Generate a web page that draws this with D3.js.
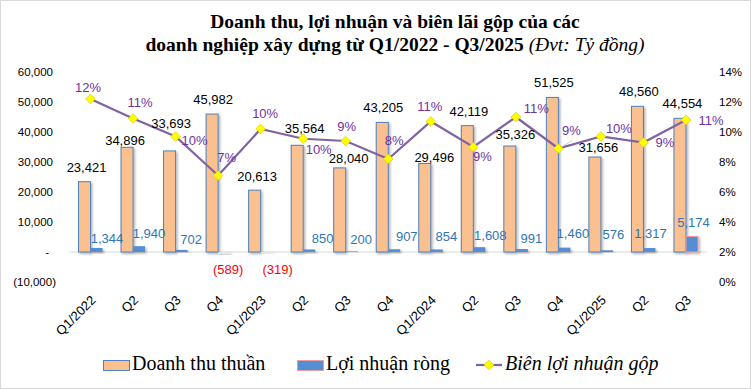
<!DOCTYPE html>
<html>
<head>
<meta charset="utf-8">
<script src="https://cdn.jsdelivr.net/npm/d3@7"></script>
<style>
    body { margin: 0; background: #fff; }
    svg text { font-family: "Liberation Sans", Arial, sans-serif; }
</style>
</head>
<body>
<div id="chart"></div>
<script>
// data
const quarters = ["Q1/2022", "Q2", "Q3", "Q4", "Q1/2023", "Q2", "Q3", "Q4", "Q1/2024", "Q2", "Q3", "Q4", "Q1/2025", "Q2", "Q3"];
const revenue = [23421, 34896, 33693, 45982, 20613, 35564, 28040, 43205, 29496, 42119, 35326, 51525, 31656, 48560, 44554];
const profit = [1344, 1940, 702, -589, -319, 850, 200, 907, 854, 1608, 991, 1460, 576, 1317, 5174];
const margin = [12.2, 10.9, 9.7, 7.1, 10.2, 9.55, 9.4, 8.2, 10.7, 9.0, 11.0, 8.9, 9.7, 9.3, 10.8];
const leftTicks = [-10000, 0, 10000, 20000, 30000, 40000, 50000, 60000];
const rightTicks = [0, 2, 4, 6, 8, 10, 12, 14];
const seriesNames = ["Doanh thu thuần", "Lợi nhuận ròng", "Biên lợi nhuận gộp"];

// label nudges (dx, dy) copied from the hand placed labels in the original
const revLabelNudge = [[2,-14],[-2,-7],[1.5,-27],[1,-15],[2.5,-14],[7.5,-17],[9,-9],[1,-15],[9.5,-6],[1.5,-14],[5.5,-12],[1.5,-15],[3.5,-10],[1.5,-15],[2.5,-15]];
const profitLabelNudge = [[10.5,-10],[10,-13],[9.5,-10],[4,16],[11,16],[13.5,-11],[9.5,-12],[12.5,-12.5],[9.5,-12.5],[11,-11.5],[9.5,-10.5],[8.5,-14],[6.5,-16],[1,-14.5],[1.5,-14]];
const marginLabelNudge = [[-2.5,-12],[7,-16],[19,4],[8.5,-18],[4.5,-16],[15.5,11],[1,-15],[6,-19],[-1,-15],[9,9],[20.5,-9],[13,-18],[18,-8],[21.5,0],[25,0]];

const W = 751, H = 389;
const svg = d3.select("#chart").append("svg")
    .attr("width", W)
    .attr("height", H);

svg.append("rect")
    .attr("x", 0.5).attr("y", 0.5)
    .attr("width", W - 1).attr("height", H - 1)
    .attr("fill", "#fff")
    .attr("stroke", "#d9d9d9");

// soft shadow under the bars
const defs = svg.append("defs");
defs.append("filter")
    .attr("id", "shadow")
    .attr("x", "-20%").attr("y", "-20%")
    .attr("width", "160%").attr("height", "160%")
    .append("feDropShadow")
    .attr("dx", 1.5).attr("dy", 1.5)
    .attr("stdDeviation", 1)
    .attr("flood-color", "#000")
    .attr("flood-opacity", 0.3);

// title
const title = svg.append("text")
    .attr("text-anchor", "middle")
    .style("font-family", "'Liberation Serif', serif")
    .style("font-size", "19.5px")
    .style("font-weight", "bold");
title.append("tspan").attr("x", 395).attr("y", 28)
    .text("Doanh thu, lợi nhuận và biên lãi gộp của các");
const t2 = title.append("tspan").attr("x", 395).attr("y", 51);
t2.append("tspan").text("doanh nghiệp xây dựng từ Q1/2022 - Q3/2025 ");
t2.append("tspan").style("font-weight", "normal").style("font-style", "italic").text("(Đvt: Tỷ đồng)");

// scales
const idx = d3.range(quarters.length);
const x = d3.scaleBand()
    .domain(idx)
    .range([69.25, 707.25])
    .paddingInner(0.435)
    .paddingOuter(0.2175);
const xs = d3.scaleBand()
    .domain(["rev", "profit"])
    .range([0, x.bandwidth()]);
const y = d3.scaleLinear()
    .domain([-10000, 60000])
    .range([282, 72]);
const y2 = d3.scaleLinear()
    .domain([0, 14])
    .range([282, 72]);

// left axis
const leftAxis = svg.append("g")
    .attr("transform", "translate(69,0)")
    .call(d3.axisLeft(y)
        .tickValues(leftTicks)
        .tickSize(0)
        .tickPadding(16)
        .tickFormat(d => d === 0 ? "-" : d < 0 ? "(" + d3.format(",")(-d) + ")" : d3.format(",")(d)));
leftAxis.select(".domain").remove();
leftAxis.selectAll("text")
    .style("font-size", "11.5px")
    .attr("fill", "#000")
    .attr("dx", d => d < 0 ? 3 : d === 0 ? -4 : 0);

// right axis
const rightAxis = svg.append("g")
    .attr("transform", "translate(707,0)")
    .call(d3.axisRight(y2)
        .tickValues(rightTicks)
        .tickSize(0)
        .tickPadding(12)
        .tickFormat(d => d + "%"));
rightAxis.select(".domain").remove();
rightAxis.selectAll("text")
    .style("font-size", "11.5px")
    .attr("fill", "#000");

// zero line
svg.append("line")
    .attr("x1", 69).attr("x2", 707)
    .attr("y1", y(0)).attr("y2", y(0))
    .attr("stroke", "#d9d9d9");

// category labels
svg.append("g").selectAll("text")
    .data(idx)
    .enter()
    .append("text")
    .attr("transform", i => `translate(${x(i) + x.bandwidth() / 2 + 6},${301}) rotate(-45)`)
    .attr("text-anchor", "end")
    .style("font-size", "13px")
    .text(i => quarters[i]);

// revenue bars
svg.append("g").selectAll("rect")
    .data(idx)
    .enter()
    .append("rect")
    .attr("x", i => x(i) + xs("rev"))
    .attr("y", i => y(revenue[i]))
    .attr("width", xs.bandwidth())
    .attr("height", i => y(0) - y(revenue[i]))
    .attr("fill", "#fac090")
    .attr("stroke", "#4f81bd")
    .attr("stroke-width", 1)
    .attr("filter", "url(#shadow)");

// profit bars
svg.append("g").selectAll("rect")
    .data(idx)
    .enter()
    .append("rect")
    .attr("x", i => x(i) + xs("profit"))
    .attr("y", i => y(Math.max(0, profit[i])))
    .attr("width", xs.bandwidth())
    .attr("height", i => Math.abs(y(0) - y(profit[i])))
    .attr("fill", i => profit[i] < 0 ? "#e6e6e6" : "#558ed5")
    .attr("stroke", i => profit[i] > 3000 ? "#e6a0a0" : "none")
    .attr("filter", "url(#shadow)");

// margin line
const line = d3.line()
    .x(i => x(i) + x.bandwidth() / 2)
    .y(i => y2(margin[i]));
svg.append("path")
    .datum(idx)
    .attr("d", line)
    .attr("fill", "none")
    .attr("stroke", "#8064a2")
    .attr("stroke-width", 2.25);

const diamond = d3.symbol().type(d3.symbolDiamond2).size(60);
svg.append("g").selectAll("path")
    .data(idx)
    .enter()
    .append("path")
    .attr("d", diamond)
    .attr("transform", i => `translate(${x(i) + x.bandwidth() / 2},${y2(margin[i])})`)
    .attr("fill", "#ffff00")
    .attr("stroke", "#d8d000")
    .attr("stroke-width", 0.75);

// leader line for Q4/2024 margin label
svg.append("line")
    .attr("x1", x(11) + x.bandwidth() / 2 + 4).attr("y1", y2(margin[11]) - 2)
    .attr("x2", x(11) + x.bandwidth() / 2 + 14).attr("y2", y2(margin[11]) - 8)
    .attr("stroke", "#bfbfbf")
    .attr("stroke-width", 0.75);

// data labels
svg.append("g").selectAll("text")
    .data(idx)
    .enter()
    .append("text")
    .attr("x", i => x(i) + xs("rev") + xs.bandwidth() / 2 + revLabelNudge[i][0])
    .attr("y", i => y(revenue[i]) + revLabelNudge[i][1])
    .attr("dy", "0.35em")
    .attr("text-anchor", "middle")
    .style("font-size", "13px")
    .attr("fill", "#000")
    .text(i => d3.format(",")(revenue[i]));

svg.append("g").selectAll("text")
    .data(idx)
    .enter()
    .append("text")
    .attr("x", i => x(i) + xs("profit") + xs.bandwidth() / 2 + profitLabelNudge[i][0])
    .attr("y", i => y(profit[i]) + profitLabelNudge[i][1])
    .attr("dy", "0.35em")
    .attr("text-anchor", "middle")
    .style("font-size", "13px")
    .attr("fill", i => profit[i] < 0 ? "#ff0000" : "#2e75b6")
    .text(i => profit[i] < 0 ? "(" + d3.format(",")(-profit[i]) + ")" : d3.format(",")(profit[i]));

svg.append("g").selectAll("text")
    .data(idx)
    .enter()
    .append("text")
    .attr("x", i => x(i) + x.bandwidth() / 2 + marginLabelNudge[i][0])
    .attr("y", i => y2(margin[i]) + marginLabelNudge[i][1])
    .attr("dy", "0.35em")
    .attr("text-anchor", "middle")
    .style("font-size", "13px")
    .attr("fill", "#7030a0")
    .text(i => Math.round(margin[i]) + "%");

// legend
const legend = svg.append("g")
    .style("font-family", "'Liberation Serif', serif")
    .style("font-size", "20px");

legend.append("rect")
    .attr("x", 103.5).attr("y", 360.5)
    .attr("width", 26).attr("height", 10)
    .attr("fill", "#fac090")
    .attr("stroke", "#4f81bd");
legend.append("text")
    .attr("x", 132).attr("y", 370)
    .style("font-family", "inherit")
    .text(seriesNames[0]);

legend.append("rect")
    .attr("x", 297.5).attr("y", 360.5)
    .attr("width", 26).attr("height", 10)
    .attr("fill", "#558ed5")
    .attr("stroke", "#e6a0a0");
legend.append("text")
    .attr("x", 326).attr("y", 370)
    .style("font-family", "inherit")
    .text(seriesNames[1]);

legend.append("line")
    .attr("x1", 476).attr("x2", 502)
    .attr("y1", 365).attr("y2", 365)
    .attr("stroke", "#8064a2")
    .attr("stroke-width", 2.25);
legend.append("path")
    .attr("d", diamond)
    .attr("transform", "translate(489,365)")
    .attr("fill", "#ffff00")
    .attr("stroke", "#d8d000")
    .attr("stroke-width", 0.75);
legend.append("text")
    .attr("x", 505).attr("y", 370)
    .style("font-family", "inherit")
    .style("font-style", "italic")
    .text(seriesNames[2]);
</script>
</body>
</html>
